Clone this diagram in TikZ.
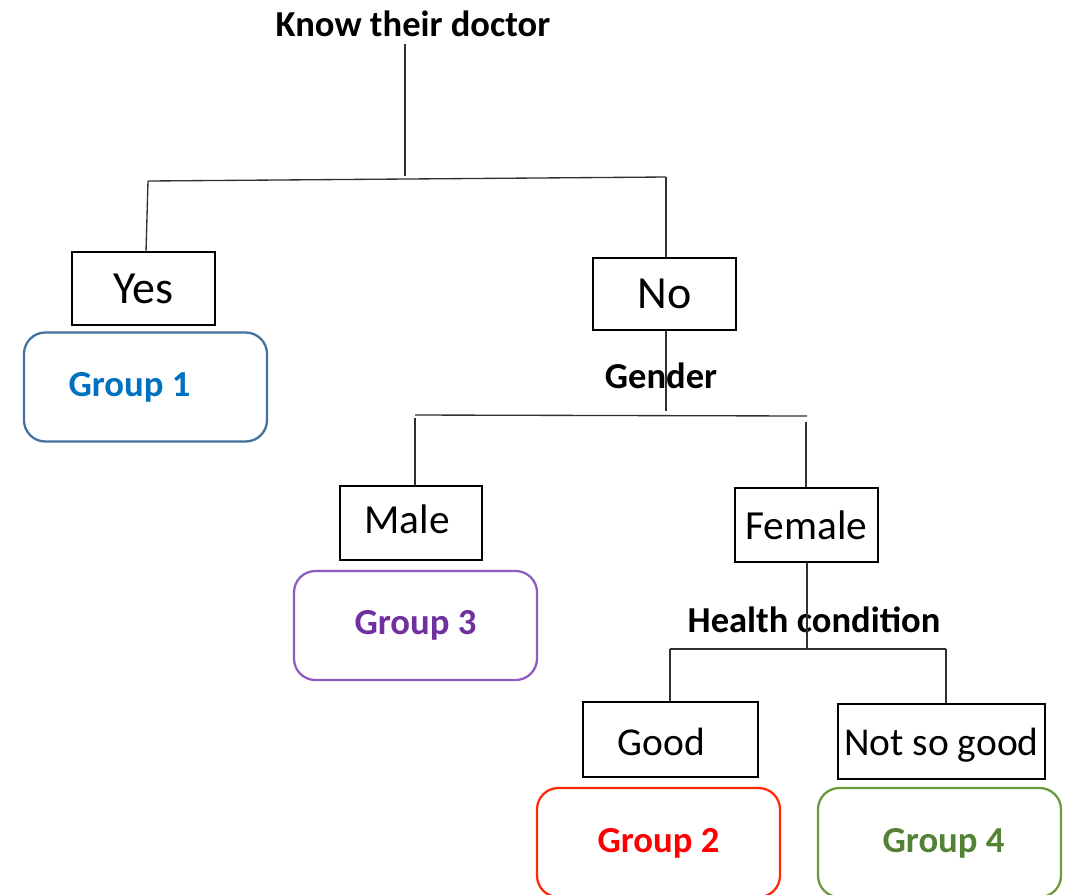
\documentclass[tikz,border=0pt]{standalone}
\usepackage{fontspec}
\setmainfont{Carlito}
\definecolor{g1border}{HTML}{41719C}
\definecolor{g1text}{HTML}{0070C0}
\definecolor{g3border}{HTML}{8E5BC4}
\definecolor{g3text}{HTML}{7030A0}
\definecolor{g2border}{HTML}{FF2A0A}
\definecolor{g2text}{HTML}{FF0000}
\definecolor{g4border}{HTML}{6A9A3C}
\definecolor{g4text}{HTML}{548235}
\definecolor{conn}{HTML}{303030}
\tikzset{
  lbl/.style={font=\fontsize{27.4pt}{30pt}\selectfont\bfseries, inner sep=0pt},
  boxnode/.style={draw=black, line width=2.1pt, inner sep=0pt},
  grp/.style={draw, line width=1.7pt, rounded corners=16pt, inner sep=0pt,
    minimum width=243*0.75pt, minimum height=109*0.75pt},
  grptext/.style={font=\fontsize{27.5pt}{30pt}\selectfont\bfseries},
  link/.style={draw=conn, line width=1pt},
}
\begin{document}
\begin{tikzpicture}[x=0.75pt,y=-0.75pt]
\clip (0,0) rectangle (1073,894);
\fill[white] (0,0) rectangle (1073,894);

% labels
\node[lbl] (know) at (413,24) {Know their doctor};
\node[lbl] (gender) at (661,376) {Gender};
\node[lbl] (health) at (814,620) {Health condition};

% answer boxes
\node[boxnode, minimum width=143*0.75pt, minimum height=73*0.75pt,
  font=\fontsize{34.5pt}{36pt}\selectfont] (yes) at (143.5,288.5) {Yes};
\node[boxnode, minimum width=143*0.75pt, minimum height=72*0.75pt,
  font=\fontsize{34.5pt}{36pt}\selectfont] (no) at (664.5,294) {No};
\node[boxnode, minimum width=142*0.75pt, minimum height=74*0.75pt,
  label={[font=\fontsize{31pt}{33pt}\selectfont, xshift=-3pt, yshift=3pt]center:Male}] (male) at (411,523) {};
\node[boxnode, minimum width=143*0.75pt, minimum height=74*0.75pt,
  font=\fontsize{31pt}{33pt}\selectfont] (female) at (806.5,525) {Female};
\node[boxnode, minimum width=175*0.75pt, minimum height=75*0.75pt,
  label={[font=\fontsize{29.6pt}{31pt}\selectfont, xshift=-7pt, yshift=-1.5pt]center:Good}] (good) at (670.5,739.5) {};
\node[boxnode, minimum width=207*0.75pt, minimum height=75*0.75pt,
  label={[font=\fontsize{29.6pt}{31pt}\selectfont, yshift=-2.5pt]center:Not so good}] (notso) at (941.5,741.5) {};

% group boxes
\node[grp, draw=g1border,
  label={[grptext, text=g1text, xshift=-12pt]center:Group 1}] (g1) at (145.5,387) {};
\node[grp, draw=g3border, text=g3text, font=\fontsize{27.5pt}{30pt}\selectfont\bfseries] (g3) at (415.5,625.5) {Group 3};
\node[grp, draw=g2border,
  label={[grptext, text=g2text, yshift=-1pt]center:Group 2}] (g2) at (658.5,842.5) {};
\node[grp, draw=g4border,
  label={[grptext, text=g4text, xshift=3pt, yshift=-1pt]center:Group 4}] (g4) at (939.5,842.5) {};

% tree connectors
\coordinate (k0) at (405,44);
\coordinate (k1) at (405,176);
\coordinate (b1L) at (148,181);
\coordinate (b1R) at (666,177);
\coordinate (y0) at (146,252);
\draw[link] (k0) -- (k1);
\draw[link] (b1L) -- (b1R);
\draw[link] (b1L) -- (y0);
\draw[link] (b1R) -- (b1R |- no.north);

\coordinate (n1) at (666,411);
\coordinate (b2L) at (415,415);
\coordinate (b2R) at (807,416);
\coordinate (m0) at (415,418);
\coordinate (f0) at (806,422);
\draw[link] (no.south -| n1) -- (n1);
\draw[link] (b2L) -- (b2R);
\draw[link] (m0) -- (m0 |- male.north);
\draw[link] (f0) -- (f0 |- female.north);

\coordinate (h1) at (807,650);
\coordinate (b3L) at (670,649);
\coordinate (b3R) at (946,649);
\draw[link] (female.south -| h1) -- (h1);
\draw[link] (b3L) -- (b3R);
\draw[link] (b3L) -- (b3L |- good.north);
\draw[link] (b3R) -- (b3R |- notso.north);
\end{tikzpicture}
\end{document}
